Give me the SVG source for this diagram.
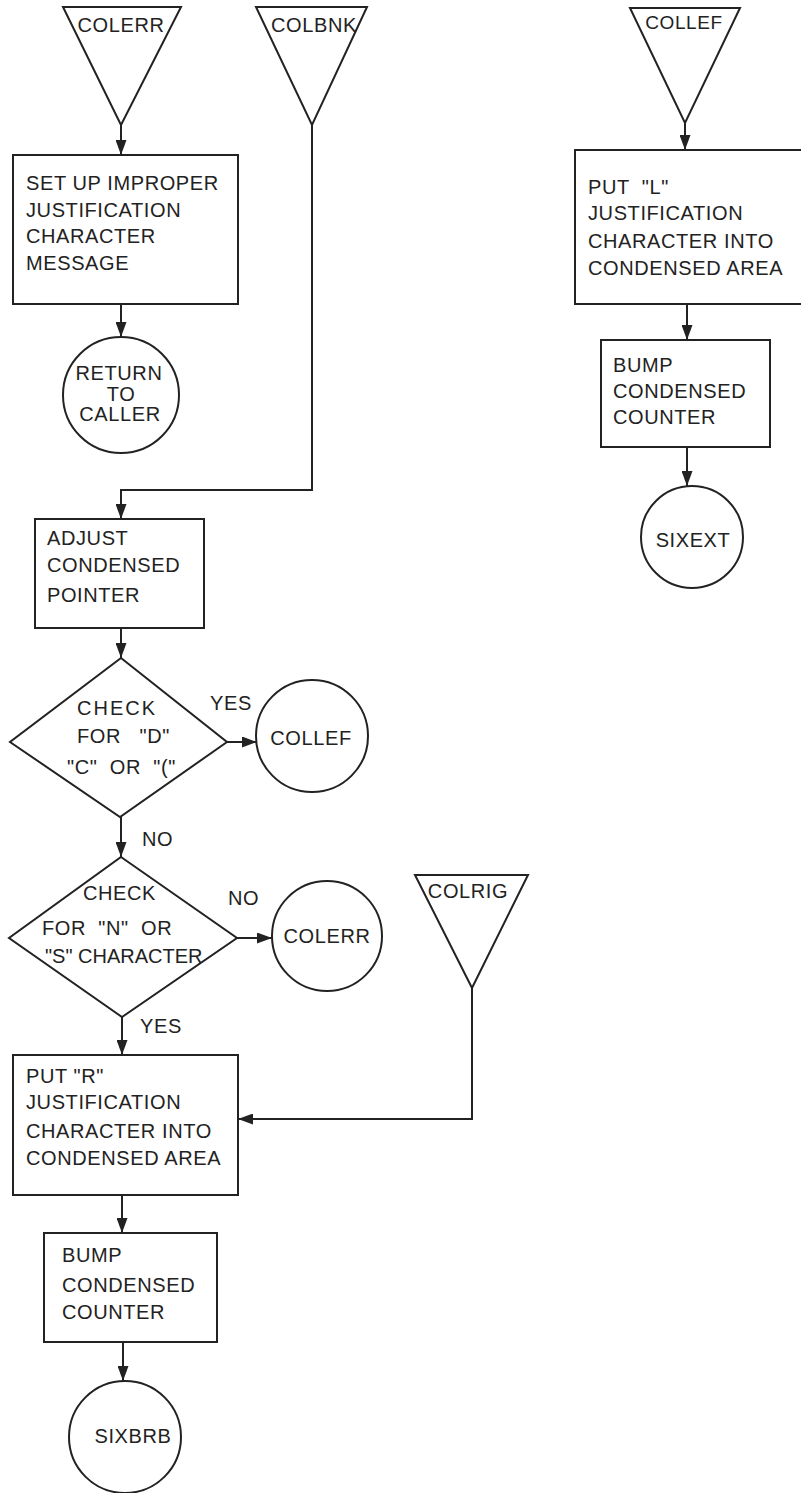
<svg xmlns="http://www.w3.org/2000/svg" width="801" height="1493" viewBox="0 0 801 1493">
<defs>
<style>
.s{fill:#fff;stroke:#222;stroke-width:2}
.c{fill:none;stroke:#222;stroke-width:2}
text{font-family:"Liberation Sans",Arial,sans-serif;font-size:20px;fill:#222;letter-spacing:0.6px}
.m{text-anchor:middle}
.p{white-space:pre}
</style>
<marker id="ah" markerUnits="userSpaceOnUse" markerWidth="15" markerHeight="11" refX="15" refY="5.5" orient="auto">
<path d="M0,0 L15,5.5 L0,11 z" fill="#222"/>
</marker>
</defs>
<rect width="801" height="1493" fill="#fff"/>
<g id="connectors">
<path class="c" d="M121,125 V155" marker-end="url(#ah)"/>
<path class="c" d="M121,304 V337" marker-end="url(#ah)"/>
<path class="c" d="M312,125 V490 H121 V519" marker-end="url(#ah)"/>
<path class="c" d="M121,628 V658" marker-end="url(#ah)"/>
<path class="c" d="M227,742 H257" marker-end="url(#ah)"/>
<path class="c" d="M121,817 V857" marker-end="url(#ah)"/>
<path class="c" d="M237,938 H272" marker-end="url(#ah)"/>
<path class="c" d="M122,1017 V1055" marker-end="url(#ah)"/>
<path class="c" d="M472,988 V1119 H238" marker-end="url(#ah)"/>
<path class="c" d="M122,1195 V1233" marker-end="url(#ah)"/>
<path class="c" d="M123,1342 V1381" marker-end="url(#ah)"/>
<path class="c" d="M685,123 V150" marker-end="url(#ah)"/>
<path class="c" d="M687,304 V340" marker-end="url(#ah)"/>
<path class="c" d="M687,447 V486" marker-end="url(#ah)"/>
</g>
<g id="colerr-entry">
<polygon class="s" points="63,7 181,7 121,125"/>
<text x="121" y="32" class="m">COLERR</text>
</g>
<g id="colbnk-entry">
<polygon class="s" points="256,7 367,7 312,125"/>
<text x="314" y="32" class="m">COLBNK</text>
</g>
<g id="colllef-entry">
<polygon class="s" points="630,8 740,8 685,123"/>
<text x="684" y="29" class="m" style="font-size:19px">COLLEF</text>
</g>
<g id="setup-msg">
<rect class="s" x="13" y="155" width="225" height="149"/>
<text x="26" y="190">SET UP IMPROPER</text>
<text x="26" y="217">JUSTIFICATION</text>
<text x="26" y="243">CHARACTER</text>
<text x="26" y="270">MESSAGE</text>
</g>
<g id="return-caller">
<circle class="s" cx="121" cy="395" r="58"/>
<text x="119" y="380" class="m">RETURN</text>
<text x="121" y="401" class="m">TO</text>
<text x="120" y="421" class="m">CALLER</text>
</g>
<g id="adjust-pointer">
<rect class="s" x="35" y="519" width="169" height="109"/>
<text x="47" y="545">ADJUST</text>
<text x="47" y="572">CONDENSED</text>
<text x="47" y="602">POINTER</text>
</g>
<g id="check-d">
<polygon class="s" points="121,658 227,742 120,817 10,742"/>
<text x="77" y="715" style="letter-spacing:2px">CHECK</text>
<text x="77" y="743" class="p">FOR   "D"</text>
<text x="67" y="774" class="p">"C"  OR  "("</text>
<text x="210" y="710">YES</text>
</g>
<g id="collef-exit">
<circle class="s" cx="312" cy="736" r="56"/>
<text x="311" y="745" class="m">COLLEF</text>
</g>
<g id="label-no1">
<text x="142" y="846">NO</text>
</g>
<g id="check-n">
<polygon class="s" points="121,857 237,938 122,1017 9,938"/>
<text x="83" y="900">CHECK</text>
<text x="42" y="935" class="p">FOR  "N"  OR</text>
<text x="45" y="963" style="letter-spacing:0">"S" CHARACTER</text>
<text x="228" y="905">NO</text>
</g>
<g id="colerr-exit">
<circle class="s" cx="327" cy="936" r="55"/>
<text x="327" y="943" class="m">COLERR</text>
</g>
<g id="label-yes2">
<text x="140" y="1033">YES</text>
</g>
<g id="colrig-entry">
<polygon class="s" points="415,875 528,875 472,988"/>
<text x="468" y="898" class="m">COLRIG</text>
</g>
<g id="put-r">
<rect class="s" x="13" y="1055" width="225" height="140"/>
<text x="26" y="1083">PUT "R"</text>
<text x="26" y="1109">JUSTIFICATION</text>
<text x="26" y="1138">CHARACTER INTO</text>
<text x="26" y="1165">CONDENSED AREA</text>
</g>
<g id="bump-r">
<rect class="s" x="44" y="1233" width="173" height="109"/>
<text x="62" y="1262">BUMP</text>
<text x="62" y="1292">CONDENSED</text>
<text x="62" y="1319">COUNTER</text>
</g>
<g id="sixbrb">
<circle class="s" cx="125" cy="1437" r="56"/>
<text x="133" y="1443" class="m">SIXBRB</text>
</g>
<g id="put-l">
<rect class="s" x="575" y="150" width="240" height="154"/>
<text x="588" y="194" class="p">PUT  "L"</text>
<text x="588" y="220">JUSTIFICATION</text>
<text x="588" y="248">CHARACTER INTO</text>
<text x="588" y="275">CONDENSED AREA</text>
</g>
<g id="bump-l">
<rect class="s" x="601" y="340" width="169" height="107"/>
<text x="613" y="372">BUMP</text>
<text x="613" y="398">CONDENSED</text>
<text x="613" y="424">COUNTER</text>
</g>
<g id="sixext">
<circle class="s" cx="692" cy="537" r="51"/>
<text x="693" y="547" class="m">SIXEXT</text>
</g>
</svg>
